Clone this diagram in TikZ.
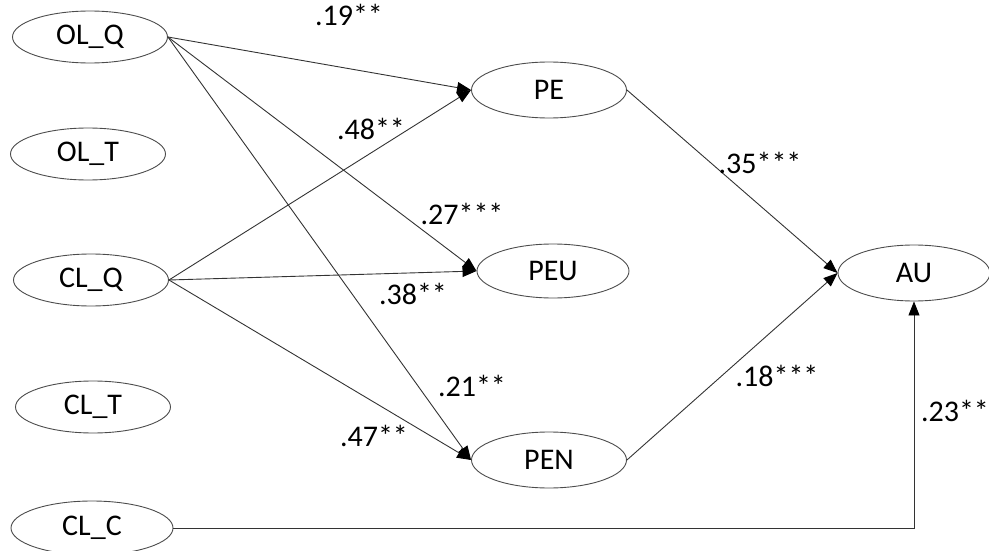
\documentclass[tikz,border=0pt]{standalone}
\usepackage{fontspec}
\setmainfont{Carlito}
\usetikzlibrary{shapes.geometric,arrows.meta}
\begin{document}
\begin{tikzpicture}[x=1pt,y=-1pt,
  var/.style={ellipse,draw=black!70,line width=0.9pt,inner sep=0pt,minimum width=155pt,minimum height=52pt,font=\fontsize{30}{32}\selectfont},
  path/.style={draw=black!80,line width=0.9pt,-{Triangle[length=14pt,width=11pt,color=black]}},
  coef/.style={font=\fontsize{30}{32}\selectfont,inner sep=0pt}]
\useasboundingbox (0,0) rectangle (989,551);
\node[var] (olq) at (90,37) {OL\_Q};
\node[var] (olt) at (88,154) {OL\_T};
\node[var] (clq) at (91,280) {CL\_Q};
\node[var] (clt) at (93,407) {CL\_T};
\node[var,minimum width=162pt,minimum height=54pt] (clc) at (92,528) {CL\_C};
\node[var,minimum height=56pt] (pe) at (549,90) {PE};
\node[var,minimum width=152pt,minimum height=54pt] (peu) at (553,271) {PEU};
\node[var,minimum height=56pt] (pen) at (549,460) {PEN};
\node[var,minimum width=152pt,minimum height=56pt] (au) at (914,273) {AU};
\draw[path] (olq.east) -- (pe.west);
\draw[path] (olq.east) -- (peu.west);
\draw[path] (olq.east) -- (pen.west);
\draw[path] (clq.east) -- (pe.west);
\draw[path] (clq.east) -- (peu.west);
\draw[path] (clq.east) -- (pen.west);
\draw[path] (pe.east) -- (au.west);
\draw[path] (pen.east) -- (au.west);
\draw[path] (clc.east) -| (au.south);
\node[coef] at (349,15) {.19**};
\node[coef] at (371,129) {.48**};
\node[coef] at (462,214) {.27***};
\node[coef] at (413,294) {.38**};
\node[coef] at (760,163) {.35***};
\node[coef] at (777,376) {.18***};
\node[coef] at (472,386) {.21**};
\node[coef] at (374,436) {.47**};
\node[coef] at (955,411) {.23**};
\end{tikzpicture}
\end{document}
